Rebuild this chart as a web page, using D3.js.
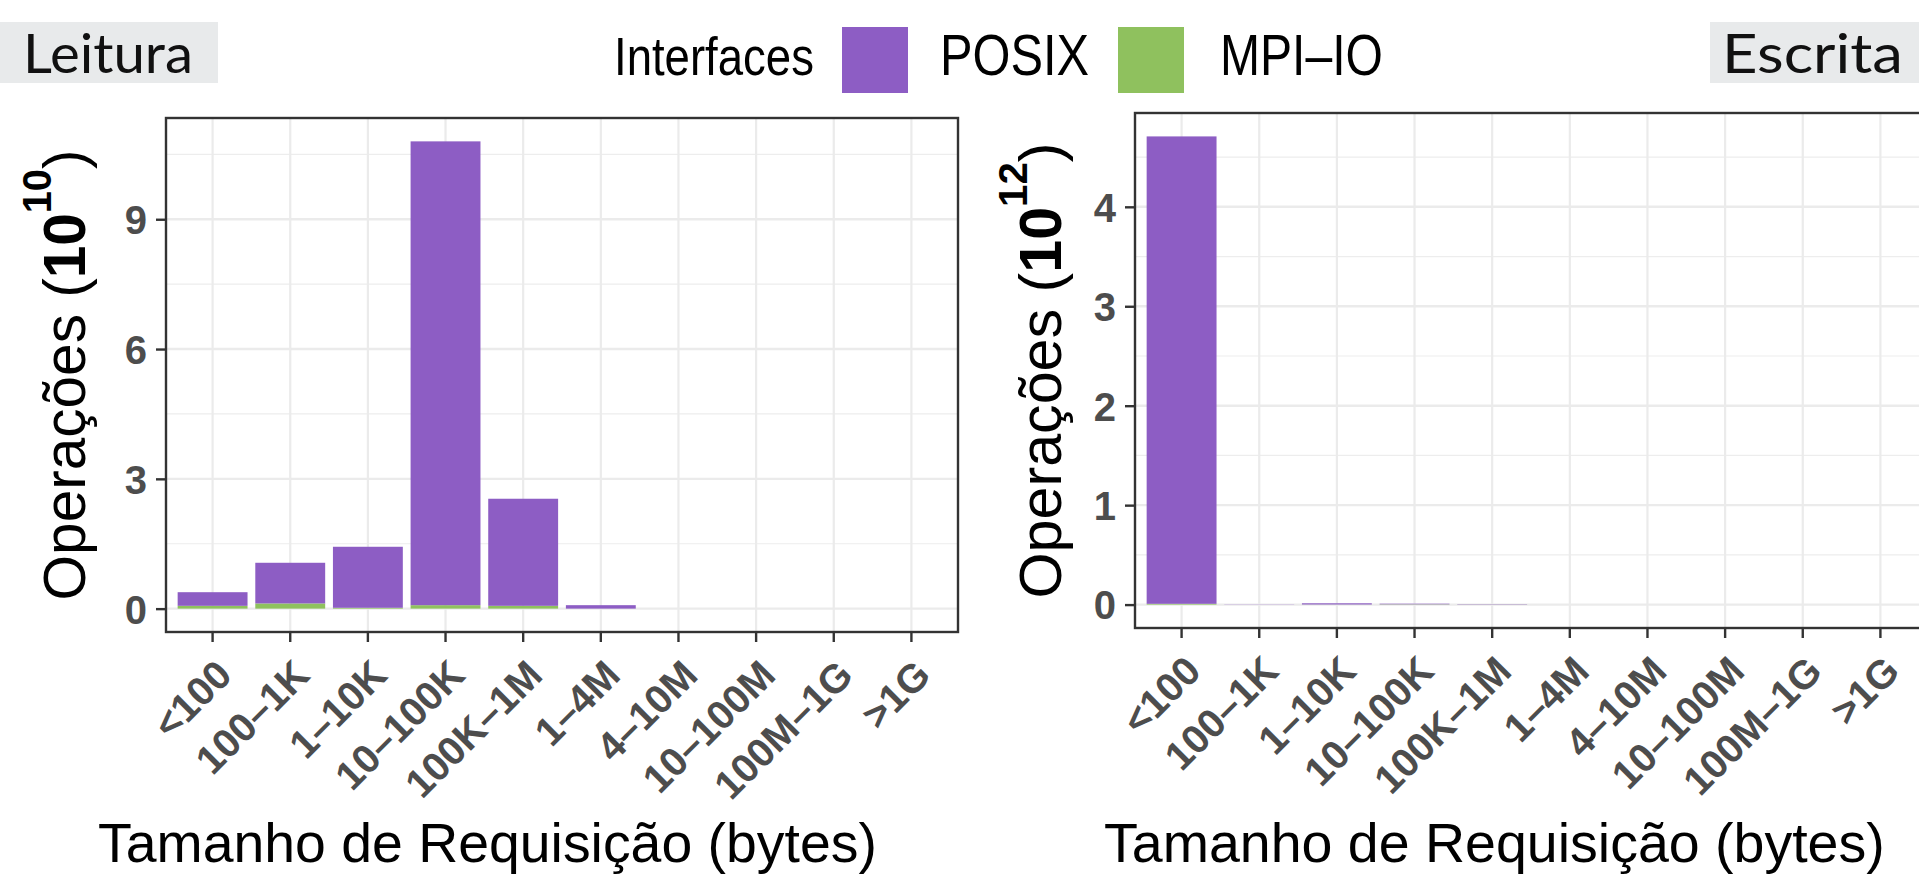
<!DOCTYPE html>
<html><head><meta charset="utf-8">
<script src="https://cdn.jsdelivr.net/npm/d3@7"></script>
<style>body{margin:0;background:#fff;overflow:hidden} svg{display:block}</style>
</head><body>
<svg id="chart" width="1919" height="875"></svg>
<script>
// ---------- data ----------
const categories = ["<100","100–1K","1–10K","10–100K","100K–1M","1–4M","4–10M","10–100M","100M–1G",">1G"];
const seriesNames = ["POSIX","MPI–IO"];
const readPosix  = [0.315, 0.94, 1.41, 10.72, 2.475, 0.08, 0, 0, 0, 0];   // x 10^10
const readMpiio  = [0.065, 0.12, 0.02, 0.08, 0.065, 0, 0, 0, 0, 0];      // x 10^10
const writePosix = [4.70, 0.002, 0.012, 0.006, 0.003, 0, 0, 0, 0, 0];    // x 10^12
const writeMpiio = [0.008, 0, 0.001, 0.003, 0.001, 0, 0, 0, 0, 0];       // x 10^12
const readTicks  = [0, 3, 6, 9];
const writeTicks = [0, 1, 2, 3, 4];
const panelLabels = ["Leitura", "Escrita"];
const legendTitle = "Interfaces";
const xTitle = "Tamanho de Requisição (bytes)";
const yTitleWord = "Operações";

// ---------- style ----------
const colors = {"POSIX": "#8d5dc4", "MPI–IO": "#8fc15e"};
const FONT = "'Liberation Sans', Arial, Helvetica, sans-serif";
const svg = d3.select("#chart");

function fitTransform(sel, target, tx, ty, rot) {
  const w = sel.node().getBBox().width;
  const s = target / w;
  sel.attr("transform", `translate(${tx},${ty}) rotate(${rot}) scale(${s},1)`);
}

function drawPanel(cfg) {
  const g = svg.append("g");
  const x = d3.scaleBand().domain(categories).range([cfg.x0, cfg.x1])
              .paddingInner(0.1).paddingOuter(0.15);
  const rows = categories.map((c, i) => ({cat: c, "POSIX": cfg.posix[i], "MPI–IO": cfg.mpi[i]}));
  const stack = d3.stack().keys(["MPI–IO", "POSIX"])(rows);
  const maxV = d3.max(rows, r => r["POSIX"] + r["MPI–IO"]);
  const y = d3.scaleLinear().domain([-0.05 * maxV, 1.05 * maxV]).range([cfg.y1, cfg.y0]);

  g.append("rect").attr("x", cfg.x0).attr("y", cfg.y0)
   .attr("width", cfg.x1 - cfg.x0).attr("height", cfg.y1 - cfg.y0).attr("fill", "#fff");

  const minor = cfg.ticks.map(t => t + (cfg.ticks[1] - cfg.ticks[0]) / 2).filter(v => v <= y.domain()[1]);
  g.selectAll(".minor").data(minor).join("line")
   .attr("x1", cfg.x0).attr("x2", cfg.x1).attr("y1", d => y(d)).attr("y2", d => y(d))
   .attr("stroke", "#ededed").attr("stroke-width", 1.2);
  g.selectAll(".major").data(cfg.ticks).join("line")
   .attr("x1", cfg.x0).attr("x2", cfg.x1).attr("y1", d => y(d)).attr("y2", d => y(d))
   .attr("stroke", "#ebebeb").attr("stroke-width", 2.4);
  g.selectAll(".vgrid").data(categories).join("line")
   .attr("x1", d => x(d) + x.bandwidth() / 2).attr("x2", d => x(d) + x.bandwidth() / 2)
   .attr("y1", cfg.y0).attr("y2", cfg.y1)
   .attr("stroke", "#ebebeb").attr("stroke-width", 2.2);

  g.selectAll(".layer").data(stack).join("g")
   .attr("fill", d => colors[d.key])
   .selectAll("rect").data(d => d).join("rect")
   .attr("x", d => x(d.data.cat)).attr("width", x.bandwidth())
   .attr("y", d => y(d[1])).attr("height", d => Math.max(0, y(d[0]) - y(d[1])));

  g.append("rect").attr("x", cfg.x0).attr("y", cfg.y0)
   .attr("width", cfg.x1 - cfg.x0).attr("height", cfg.y1 - cfg.y0)
   .attr("fill", "none").attr("stroke", "#333").attr("stroke-width", 2.4);

  const ya = g.append("g").attr("transform", `translate(${cfg.x0},0)`)
    .call(d3.axisLeft(y).tickValues(cfg.ticks).tickSize(10).tickPadding(9).tickFormat(d3.format("d")));
  ya.select(".domain").remove();
  ya.selectAll("line").attr("stroke", "#333").attr("stroke-width", 2.4);
  ya.selectAll("text").attr("font-family", FONT).attr("font-weight", "bold")
    .attr("font-size", 40).attr("fill", "#4d4d4d").attr("dy", "0.36em");

  const xa = g.append("g").attr("transform", `translate(0,${cfg.y1})`)
    .call(d3.axisBottom(x).tickSize(10));
  xa.select(".domain").remove();
  xa.selectAll("line").attr("stroke", "#333").attr("stroke-width", 2.4);
  xa.selectAll("text").attr("font-family", FONT).attr("font-weight", "bold")
    .attr("font-size", 40).attr("fill", "#4d4d4d").attr("text-anchor", "end")
    .attr("x", 0).attr("y", 0).attr("dy", "0.72em")
    .attr("transform", "translate(1,25) rotate(-45)");

  const xt = svg.append("text").attr("font-family", FONT).attr("font-size", 56)
    .attr("fill", "#000").text(xTitle);
  fitTransform(xt, cfg.xtW, cfg.xtX, cfg.xtY, 0);

  const yt = svg.append("text").attr("font-family", FONT).attr("font-size", 59)
    .attr("fill", "#000").attr("text-anchor", "middle");
  yt.append("tspan").text(yTitleWord + " (");
  yt.append("tspan").attr("font-weight", "bold").text("10");
  yt.append("tspan").attr("font-weight", "bold").attr("font-size", 40).attr("dy", -34).text(cfg.exp);
  yt.append("tspan").attr("dy", 34).text(")");
  fitTransform(yt, cfg.ytLen, cfg.ytX, (cfg.y0 + cfg.y1) / 2, -90);
}

drawPanel({x0: 166, x1: 958, y0: 118, y1: 632, posix: readPosix, mpi: readMpiio,
  ticks: readTicks, exp: "10", xtX: 98, xtY: 862, xtW: 779, ytX: 85, ytLen: 451});
drawPanel({x0: 1135, x1: 1927, y0: 113, y1: 628, posix: writePosix, mpi: writeMpiio,
  ticks: writeTicks, exp: "12", xtX: 1104, xtY: 862, xtW: 781, ytX: 1061, ytLen: 456});

const boxes = [{x: 0, w: 218, tx: 23, tw: 170}, {x: 1710, w: 209, tx: 1722, tw: 181}];
boxes.forEach((b, i) => {
  svg.append("rect").attr("x", b.x).attr("y", 22).attr("width", b.w).attr("height", 61).attr("fill", "#e8eaeb");
  const t = svg.append("text").attr("font-family", "Lato, 'Open Sans', sans-serif")
    .attr("font-size", 55).attr("fill", "#111").text(panelLabels[i]);
  fitTransform(t, b.tw, b.tx, 73, 0);
});

const lt = svg.append("text").attr("font-family", FONT).attr("font-size", 54).attr("fill", "#000").text(legendTitle);
fitTransform(lt, 200, 614, 75, 0);
const legendItems = [{k: seriesNames[0], rx: 842, tx: 940, tw: 149}, {k: seriesNames[1], rx: 1118, tx: 1220, tw: 163}];
legendItems.forEach(it => {
  svg.append("rect").attr("x", it.rx).attr("y", 27).attr("width", 66).attr("height", 66).attr("fill", colors[it.k]);
  const t = svg.append("text").attr("font-family", FONT).attr("font-size", 58).attr("fill", "#000").text(it.k);
  fitTransform(t, it.tw, it.tx, 75, 0);
});
</script>
</body></html>
